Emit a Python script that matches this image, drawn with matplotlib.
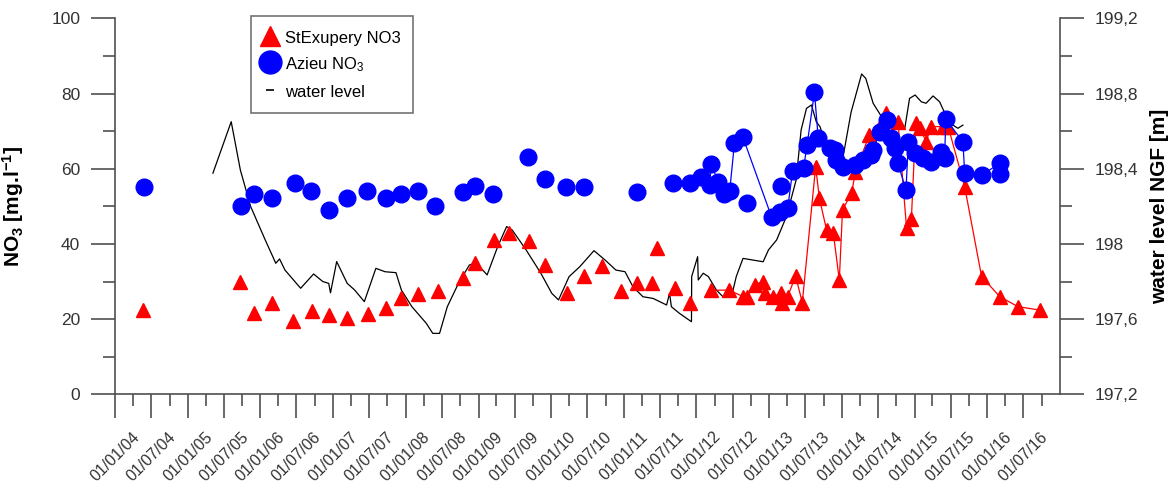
import pandas as pd
import matplotlib
matplotlib.use('Agg')
import matplotlib.pyplot as plt
import matplotlib.dates as mdates
from matplotlib.lines import Line2D
from matplotlib.ticker import FixedLocator, FuncFormatter

plt.rcParams['font.family'] = ['Liberation Sans', 'DejaVu Sans']
plt.rcParams['mathtext.fontset'] = 'custom'
plt.rcParams['mathtext.rm'] = 'Liberation Sans'
plt.rcParams['mathtext.bf'] = 'Liberation Sans:bold'
plt.rcParams['mathtext.it'] = 'Liberation Sans:italic'
plt.rcParams['mathtext.default'] = 'regular'

# StExupery NO3 - single samples (no line)
stex_dates = ['2004-05-22', '2005-09-19', '2005-12-01', '2006-02-28', '2006-06-16',
              '2006-09-19', '2006-12-10', '2007-03-13', '2007-06-25', '2007-09-25',
              '2007-12-10', '2008-03-04', '2008-06-10', '2008-10-13', '2008-12-13',
              '2009-03-19', '2009-06-01', '2009-09-10', '2009-12-01', '2010-03-19',
              '2010-06-16', '2010-09-13', '2010-12-19', '2011-03-07', '2011-05-25',
              '2011-06-16', '2011-09-13', '2011-11-28']
stex_vals = [22.3, 29.8, 21.7, 24.4, 19.5, 22.2, 21.0, 20.4, 21.3, 23.0,
             25.5, 26.6, 27.4, 30.8, 34.8, 41.0, 42.8, 40.8, 34.4, 26.9,
             31.5, 34.1, 27.6, 29.5, 29.7, 38.8, 28.2, 24.4]

# StExupery NO3 - monitoring series (joined)
stex_line_dates = ['2012-03-16', '2012-06-13', '2012-08-22', '2012-09-10', '2012-10-19',
                   '2012-11-28', '2012-12-10', '2013-01-22', '2013-03-01', '2013-03-07',
                   '2013-04-04', '2013-05-13', '2013-06-16', '2013-08-22', '2013-09-10',
                   '2013-10-16', '2013-11-19', '2013-12-19', '2014-01-04', '2014-02-19',
                   '2014-03-10', '2014-05-19', '2014-08-13', '2014-10-10', '2014-11-22',
                   '2014-12-16', '2015-01-07', '2015-01-28', '2015-03-01', '2015-03-25',
                   '2015-05-22', '2015-06-19', '2015-09-10', '2015-12-04', '2016-03-04',
                   '2016-06-04', '2016-09-22']
stex_line_vals = [27.7, 27.7, 26.0, 26.0, 29.1, 30.0, 26.9, 26.0, 26.9, 24.4,
                  26.0, 31.5, 24.4, 60.5, 52.1, 43.7, 42.8, 30.4, 49.0, 53.6,
                  59.2, 69.0, 74.7, 72.5, 44.1, 46.5, 72.1, 70.7, 67.2, 71.2,
                  71.2, 71.2, 55.2, 31.3, 26.0, 23.3, 22.4]

# Azieu NO3 - single samples
azieu_dates = ['2004-05-26', '2005-09-25', '2005-12-01', '2006-03-01', '2006-06-22',
               '2006-09-13', '2006-12-10', '2007-03-13', '2007-06-19', '2007-09-22',
               '2007-12-10', '2008-03-04', '2008-05-28', '2008-10-13', '2008-12-13',
               '2009-03-13', '2009-09-07', '2009-12-01', '2010-03-16', '2010-06-13',
               '2011-03-07', '2011-09-07', '2011-12-01', '2012-09-10', '2013-03-01']
azieu_vals = [55.2, 50.1, 53.2, 52.1, 56.3, 54.1, 49.0, 52.1, 54.1, 52.1,
              53.2, 54.1, 50.1, 53.9, 55.4, 53.2, 63.0, 57.2, 55.2, 55.2,
              53.9, 56.3, 56.3, 51.0, 55.4]

# Azieu NO3 - monitoring series (joined)
azieu_line_dates = ['2012-01-25', '2012-03-07', '2012-03-16', '2012-04-19', '2012-05-16',
                    '2012-06-16', '2012-07-10', '2012-08-22', '2013-01-13', '2013-02-25',
                    '2013-04-04', '2013-04-28', '2013-06-22', '2013-07-10', '2013-08-16',
                    '2013-09-04', '2013-11-01', '2013-11-25', '2013-12-04', '2014-01-07',
                    '2014-03-07', '2014-04-16', '2014-05-28', '2014-06-07', '2014-07-10',
                    '2014-08-16', '2014-09-07', '2014-09-25', '2014-10-10', '2014-11-19',
                    '2014-12-01', '2015-01-04', '2015-02-13', '2015-03-25', '2015-05-16',
                    '2015-06-01', '2015-06-07', '2015-09-01', '2015-09-10', '2015-12-04',
                    '2016-03-04', '2016-03-07']
azieu_line_vals = [57.9, 55.7, 61.2, 56.5, 53.4, 54.0, 66.8, 68.3, 47.1, 48.6,
                   49.6, 59.4, 60.1, 66.3, 80.3, 68.1, 65.4, 65.0, 62.3, 60.5,
                   61.0, 62.3, 63.6, 65.0, 69.8, 73.0, 68.1, 65.4, 61.4, 54.3,
                   67.2, 64.1, 62.8, 61.9, 64.5, 62.8, 73.1, 67.2, 58.8, 58.3,
                   61.4, 58.5]

# water level NGF [m]
wl_dates = ['2005-05-07', '2005-08-07', '2005-09-22', '2005-11-13', '2006-01-25',
            '2006-03-19', '2006-04-07', '2006-05-04', '2006-07-22', '2006-09-25',
            '2006-11-10', '2006-12-10', '2006-12-19', '2007-01-19', '2007-03-13',
            '2007-04-19', '2007-06-07', '2007-08-04', '2007-09-19', '2007-11-13',
            '2007-12-10', '2008-02-01', '2008-04-13', '2008-05-16', '2008-06-19',
            '2008-07-28', '2008-09-22', '2008-11-16', '2008-12-22', '2009-02-13',
            '2009-04-07', '2009-05-22', '2009-06-19', '2009-08-28', '2009-11-10',
            '2010-01-04', '2010-02-07', '2010-04-01', '2010-05-25', '2010-08-04',
            '2010-09-28', '2010-11-22', '2011-01-07', '2011-02-16', '2011-04-07',
            '2011-05-28', '2011-08-04', '2011-08-19', '2011-08-28', '2011-10-07',
            '2011-12-07', '2011-12-08', '2012-01-07', '2012-01-10', '2012-02-04',
            '2012-03-01', '2012-04-10', '2012-05-13', '2012-06-25', '2012-07-19',
            '2012-08-22', '2012-12-01', '2012-12-28', '2013-02-07', '2013-03-28',
            '2013-05-16', '2013-06-10', '2013-07-07', '2013-08-01', '2013-08-25',
            '2013-09-13', '2013-10-16', '2013-12-01', '2014-01-07', '2014-02-16',
            '2014-04-10', '2014-05-01', '2014-06-07', '2014-07-19', '2014-08-22',
            '2014-10-10', '2014-11-13', '2014-12-07', '2015-01-04', '2015-02-04',
            '2015-02-28', '2015-04-04', '2015-05-07', '2015-06-10', '2015-07-13',
            '2015-08-07', '2015-09-01']
wl_vals = [198.376, 198.650, 198.393, 198.198, 198.021, 197.897, 197.920, 197.861,
           197.764, 197.840, 197.800, 197.790, 197.740, 197.906, 197.790, 197.755,
           197.693, 197.870, 197.852, 197.847, 197.755, 197.666, 197.578, 197.524,
           197.524, 197.666, 197.790, 197.888, 197.897, 197.835, 197.985, 198.092,
           198.074, 197.968, 197.844, 197.737, 197.702, 197.826, 197.879, 197.964,
           197.915, 197.861, 197.852, 197.772, 197.719, 197.710, 197.675, 197.737,
           197.666, 197.631, 197.586, 197.826, 197.932, 197.808, 197.844, 197.826,
           197.755, 197.719, 197.719, 197.826, 197.923, 197.905, 197.968, 198.021,
           198.145, 198.340, 198.606, 198.721, 198.739, 198.650, 198.623, 198.520,
           198.460, 198.464, 198.700, 198.904, 198.880, 198.748, 198.677, 198.650,
           198.615, 198.615, 198.774, 198.792, 198.756, 198.748, 198.787, 198.756,
           198.677, 198.632, 198.615, 198.632]

major_ticks = pd.date_range('2004-01-01', '2016-07-01', freq='6MS')
minor_ticks = pd.date_range('2004-04-01', '2016-10-01', freq='6MS')

axis_col = '#505050'
text_col = '#333333'

fig = plt.figure(figsize=(11.69, 4.87), dpi=100)
ax = fig.add_axes([115 / 1169, 1 - 394.3 / 487, 945 / 1169, 376 / 487])
ax2 = ax.twinx()

ax2.plot(pd.to_datetime(wl_dates), wl_vals, color='black', lw=0.9)

ax.plot(pd.to_datetime(stex_dates), stex_vals, ls='none', marker='^', ms=9.5,
        color='#ff0000', mec='#ff0000')
ax.plot(pd.to_datetime(stex_line_dates), stex_line_vals, ls='-', lw=0.9,
        marker='^', ms=9.5, color='#ff0000', mec='#ff0000')
ax.plot(pd.to_datetime(azieu_dates), azieu_vals, ls='none', marker='o', ms=12,
        color='#0000ff', mec='#0000ff')
ax.plot(pd.to_datetime(azieu_line_dates), azieu_line_vals, ls='-', lw=0.9,
        marker='o', ms=12, color='#0000ff', mec='#0000ff')

ax.set_zorder(ax2.get_zorder() + 1)
ax.patch.set_visible(False)

ax.set_xlim(pd.Timestamp('2004-01-01'), pd.Timestamp('2017-01-01'))
ax.set_ylim(0, 100)
ax2.set_ylim(197.2, 199.2)

ax.xaxis.set_major_locator(FixedLocator(mdates.date2num(major_ticks)))
ax.xaxis.set_minor_locator(FixedLocator(mdates.date2num(minor_ticks)))
ax.xaxis.set_major_formatter(mdates.DateFormatter('%d/%m/%y'))
ax.set_yticks([0, 20, 40, 60, 80, 100])
ax.set_yticks([10, 30, 50, 70, 90], minor=True)
ax2.set_yticks([197.2, 197.6, 198.0, 198.4, 198.8, 199.2])
ax2.set_yticks([197.4, 197.8, 198.2, 198.6, 199.0], minor=True)
ax2.yaxis.set_major_formatter(FuncFormatter(
    lambda v, p: f'{v:.1f}'.rstrip('0').rstrip('.').replace('.', ',')))

for a in (ax, ax2):
    a.spines['top'].set_visible(False)
    for s in a.spines.values():
        s.set_color(axis_col)
        s.set_linewidth(1.2)
    a.tick_params(which='major', direction='out', length=17, width=1.2,
                  color=axis_col, labelcolor=text_col, labelsize=12.5, pad=8)
    a.tick_params(which='minor', direction='out', length=8.5, width=1.2,
                  color=axis_col)
ax.spines['right'].set_visible(False)
ax2.spines['left'].set_visible(False)
ax2.spines['bottom'].set_visible(False)
ax.tick_params(axis='x', which='major', labelsize=11.5, pad=8)
for lab in ax.get_xticklabels():
    lab.set_rotation(45)
    lab.set_ha('center')

ax.set_ylabel(r'NO$_\mathbf{3}$ [mg.l$^\mathbf{-1}$]', fontsize=15,
              fontweight='bold', color='black')
ax.yaxis.set_label_coords(-0.094, 0.5)
ax2.set_ylabel('water level NGF [m]', fontsize=15, fontweight='bold',
               color='black', rotation=90)
ax2.yaxis.set_label_coords(1.095, 0.5)

handles = [
    Line2D([], [], ls='none', marker='^', ms=15, color='#ff0000'),
    Line2D([], [], ls='none', marker='o', ms=16.5, color='#0000ff'),
    Line2D([], [], ls='none', marker='_', ms=6, mew=1.2, color='black'),
]
leg = ax.legend(handles, ['StExupery NO3', 'Azieu NO$_3$', 'water level'],
                loc='upper left', bbox_to_anchor=(251 / 1169, 1 - 16 / 487),
                bbox_transform=fig.transFigure, borderaxespad=0, fontsize=12,
                frameon=True, fancybox=False, handlelength=0.8,
                handleheight=1.2, handletextpad=0.5, labelspacing=0.55,
                borderpad=0.75)
leg.get_frame().set_edgecolor(axis_col)
leg.get_frame().set_linewidth(1.2)

fig.savefig('out.png', dpi=100)
